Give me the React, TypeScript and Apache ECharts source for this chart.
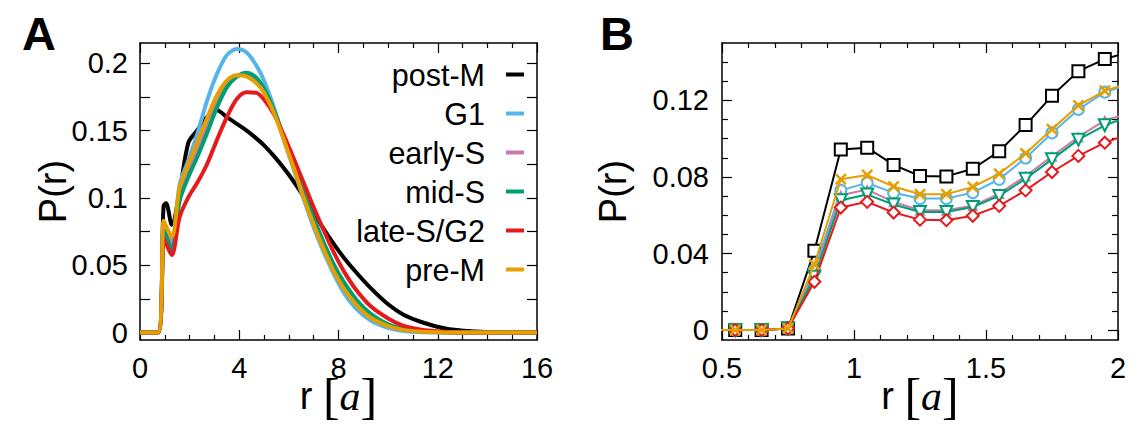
import React, { useEffect, useRef } from 'react';
import * as echarts from 'echarts';

const FONT = '"Liberation Sans", Arial, Helvetica, sans-serif';
const SERIF = '"Liberation Serif", "DejaVu Serif", serif';

const seriesNames = ['post-M', 'G1', 'early-S', 'mid-S', 'late-S/G2', 'pre-M'];
const seriesColors = ['#000000', '#56B4E9', '#CC79A7', '#009E73', '#E41A1C', '#E69F00'];

// Panel A: P(r) over r in [0, 16]
const rA = [0, 0.72, 0.95, 1.05, 1.28, 1.6, 1.95, 2.3, 2.7, 3.1, 3.5, 3.9, 4.3, 4.7, 5.0, 5.4, 5.8, 6.2, 6.6, 7.0, 7.4, 7.8, 8.2, 8.7, 9.3, 10.0, 10.6, 11.4, 12.4, 13.5, 14.5, 16];
const postM_A = [0, 0, 0.094, 0.096, 0.080, 0.105, 0.141, 0.150, 0.160, 0.165, 0.160, 0.155, 0.150, 0.144, 0.139, 0.131, 0.122, 0.112, 0.101, 0.089, 0.077, 0.066, 0.056, 0.045, 0.033, 0.021, 0.0135, 0.0075, 0.0027, 0.0009, 0.0002, 0];
const g1_A = [0, 0, 0.078, 0.075, 0.067, 0.110, 0.128, 0.147, 0.172, 0.192, 0.206, 0.2105, 0.208, 0.198, 0.187, 0.167, 0.143, 0.121, 0.099, 0.078, 0.060, 0.044, 0.030, 0.018, 0.009, 0.0035, 0.0012, 0.0003, 0, 0, 0, 0];
const earlyS_A = [0, 0, 0.079, 0.075, 0.065, 0.102, 0.119, 0.134, 0.152, 0.170, 0.184, 0.1905, 0.1915, 0.187, 0.180, 0.164, 0.144, 0.123, 0.102, 0.083, 0.065, 0.049, 0.036, 0.023, 0.013, 0.0055, 0.0024, 0.0008, 0.0001, 0, 0, 0];
const midS_A = [0, 0, 0.076, 0.072, 0.061, 0.098, 0.1155, 0.130, 0.148, 0.167, 0.182, 0.190, 0.193, 0.189, 0.181, 0.165, 0.145, 0.124, 0.104, 0.085, 0.067, 0.051, 0.038, 0.025, 0.014, 0.0062, 0.0028, 0.0009, 0.0002, 0, 0, 0];
const lateS_A = [0, 0, 0.070, 0.066, 0.0575, 0.086, 0.1005, 0.111, 0.125, 0.143, 0.160, 0.1735, 0.1785, 0.178, 0.173, 0.162, 0.1465, 0.129, 0.111, 0.093, 0.076, 0.060, 0.046, 0.032, 0.0195, 0.0105, 0.0052, 0.002, 0.0005, 0.0001, 0, 0];
const preM_A = [0, 0, 0.083, 0.079, 0.071, 0.108, 0.125, 0.141, 0.159, 0.176, 0.187, 0.191, 0.190, 0.185, 0.178, 0.163, 0.143, 0.122, 0.100, 0.080, 0.062, 0.046, 0.033, 0.021, 0.011, 0.0048, 0.002, 0.0006, 0.0001, 0, 0, 0];

// Panel B: zoom on small r
const rB = [0.45, 0.55, 0.65, 0.75, 0.85, 0.95, 1.05, 1.15, 1.25, 1.35, 1.45, 1.55, 1.65, 1.75, 1.85, 1.95, 2.05];
const postM_B = [0, 0, 0, 0.0008, 0.0414, 0.0944, 0.0953, 0.0863, 0.0805, 0.0803, 0.0843, 0.0934, 0.1071, 0.1224, 0.1353, 0.1416, 0.1455];
const g1_B = [0, 0, 0, 0.0008, 0.0313, 0.0730, 0.0769, 0.0717, 0.0687, 0.0687, 0.0718, 0.0788, 0.0899, 0.1030, 0.1153, 0.1243, 0.1290];
const earlyS_B = [0, 0, 0, 0.0008, 0.0287, 0.0704, 0.0734, 0.0670, 0.0626, 0.0626, 0.0649, 0.0713, 0.0805, 0.0908, 0.1009, 0.1096, 0.1135];
const midS_B = [0, 0, 0, 0.0008, 0.0278, 0.0678, 0.0708, 0.0656, 0.0617, 0.0617, 0.0643, 0.0701, 0.0791, 0.0892, 0.0995, 0.1070, 0.1120];
const lateS_B = [0, 0, 0, 0.0008, 0.0252, 0.0640, 0.0670, 0.0614, 0.0577, 0.0574, 0.0597, 0.0649, 0.0730, 0.0826, 0.0910, 0.0979, 0.1030];
const preM_B = [0, 0, 0, 0.0008, 0.0343, 0.0788, 0.0810, 0.0750, 0.0710, 0.0710, 0.0748, 0.0817, 0.0923, 0.1049, 0.1174, 0.1250, 0.1295];

// Ticks
const xLabelsA = [0, 4, 8, 12, 16];
const xMinorA = [1, 2, 3, 5, 6, 7, 9, 10, 11, 13, 14, 15];
const yLabelsA = [0, 0.05, 0.1, 0.15, 0.2];
const yMinorA = [0.025, 0.075, 0.125, 0.175];
const xLabelsB = [0.5, 1, 1.5, 2];
const xMinorB = [0.6, 0.7, 0.8, 0.9, 1.1, 1.2, 1.3, 1.4, 1.6, 1.7, 1.8, 1.9];
const yLabelsB = [0, 0.04, 0.08, 0.12];
const yMinorB = [0.01, 0.02, 0.03, 0.05, 0.06, 0.07, 0.09, 0.1, 0.11, 0.13, 0.14];

const dataA = [postM_A, g1_A, earlyS_A, midS_A, lateS_A, preM_A];
const dataB = [postM_B, g1_B, earlyS_B, midS_B, lateS_B, preM_B];

const CROSS = 'path://M0,1.5L1.5,0L5,3.5L8.5,0L10,1.5L6.5,5L10,8.5L8.5,10L5,6.5L1.5,10L0,8.5L3.5,5Z';
const symbolsB = ['emptyRect', 'emptyCircle', 'triangle', 'emptyTriangle', 'emptyDiamond', CROSS];
const symbolRotB = [0, 0, 0, 180, 0, 0];
const symbolSizeB = [12, 11, 11, 12, 12, 12];

const fmt = (v: number) => String(Math.round(v * 1000) / 1000);

function makeAxes(
  kind: 'x' | 'y', gridIndex: number, min: number, max: number,
  major: number[], minor: number[], majorLen: number, minorLen: number,
  labelMargin: number, name: string, nameGap: number, nameTextStyle: any
) {
  const pos = kind === 'x' ? ['bottom', 'top'] : ['left', 'right'];
  const base = { type: 'value', gridIndex, min, max, splitLine: { show: false }, scale: false };
  const line = { show: true, onZero: false, lineStyle: { color: '#000', width: 1.5 } };
  const noLine = { show: false, onZero: false };
  const tick = (vals: number[], len: number) => ({
    show: true, inside: true, length: len, customValues: vals,
    lineStyle: { color: '#000', width: 1.2 },
  });
  return [
    {
      ...base, position: pos[0], axisLine: line, axisTick: tick(major, majorLen),
      axisLabel: {
        show: true, customValues: major, formatter: fmt, margin: labelMargin,
        fontSize: 29, fontFamily: FONT, color: '#000',
      },
      name, nameLocation: 'middle', nameGap, nameTextStyle, nameMoveOverlap: false,
    },
    { ...base, position: pos[0], axisLine: noLine, axisTick: tick(minor, minorLen), axisLabel: { show: false } },
    { ...base, position: pos[1], axisLine: line, axisTick: tick(major, majorLen), axisLabel: { show: false } },
    { ...base, position: pos[1], axisLine: noLine, axisTick: tick(minor, minorLen), axisLabel: { show: false } },
  ];
}

const xNameStyle = {
  fontSize: 38, fontFamily: FONT, color: '#000',
  rich: {
    r: { fontSize: 38, fontFamily: FONT, color: '#000' },
    b: { fontSize: 50, fontFamily: SERIF, color: '#000', fontWeight: 'lighter' },
    i: { fontSize: 42, fontFamily: SERIF, fontStyle: 'italic', color: '#000' },
  },
};
const yNameStyle = { fontSize: 38, fontFamily: FONT, color: '#000' };
const X_NAME = '{r|r} {b|[}{i|a}{b|]}';

export default function App() {
  const ref = useRef<HTMLDivElement>(null);
  useEffect(() => {
    if (!ref.current) return;
    const chart = echarts.init(ref.current, null, { renderer: 'svg' });

    const xAxes = [
      ...makeAxes('x', 0, 0, 16, xLabelsA, xMinorA, 10, 5, 13, X_NAME, 31, xNameStyle),
      ...makeAxes('x', 1, 0.5, 2, xLabelsB, xMinorB, 10, 5, 13, X_NAME, 31, xNameStyle),
    ];
    const yAxes = [
      ...makeAxes('y', 0, -0.0055, 0.215, yLabelsA, yMinorA, 10, 10, 12, 'P(r)', 68, yNameStyle),
      ...makeAxes('y', 1, -0.0052, 0.15, yLabelsB, yMinorB, 10, 6, 13, 'P(r)', 90, yNameStyle),
    ];

    const seriesA = seriesNames.map((name, k) => ({
      type: 'line', name, xAxisIndex: 0, yAxisIndex: 0,
      data: rA.map((r, i) => [r, dataA[k][i]]),
      smooth: 0.3, showSymbol: false, symbol: 'none',
      lineStyle: { color: seriesColors[k], width: 4 },
      itemStyle: { color: seriesColors[k] },
      z: 2 + k,
    }));
    const seriesB = seriesNames.map((name, k) => ({
      type: 'line', name, xAxisIndex: 4, yAxisIndex: 4,
      data: rB.map((r, i) => [r, dataB[k][i]]),
      smooth: false, showSymbol: true, symbol: symbolsB[k], symbolSize: symbolSizeB[k],
      symbolRotate: symbolRotB[k], clip: true,
      lineStyle: { color: seriesColors[k], width: 2 },
      itemStyle: { color: seriesColors[k], borderWidth: 2 },
      z: 2 + k,
    }));

    chart.setOption({
      animation: false,
      backgroundColor: '#fff',
      grid: [
        { left: 140, top: 43, width: 397, height: 297, containLabel: false, outerBoundsMode: 'none' },
        { left: 722, top: 43, width: 396, height: 297, containLabel: false, outerBoundsMode: 'none' },
      ],
      xAxis: xAxes,
      yAxis: yAxes,
      legend: {
        data: seriesNames, orient: 'vertical', align: 'right', right: 606, top: 54,
        icon: 'rect', itemWidth: 18, itemHeight: 4, itemGap: 8, selectedMode: false,
        textStyle: { fontSize: 30.5, fontFamily: FONT, color: '#000', width: 160, lineHeight: 30.5, padding: [0, 16, 0, 0] },
      },
      graphic: [
        { type: 'text', left: 22, top: 10, style: { text: 'A', fontSize: 47, fontWeight: 'bold', fontFamily: FONT, fill: '#000' } },
        { type: 'text', left: 600, top: 10, style: { text: 'B', fontSize: 47, fontWeight: 'bold', fontFamily: FONT, fill: '#000' } },
      ],
      series: [...seriesA, ...seriesB],
    } as any);
    return () => chart.dispose();
  }, []);
  return <div ref={ref} style={{ position: 'fixed', left: 0, top: 0, width: 1135, height: 434 }} />;
}
